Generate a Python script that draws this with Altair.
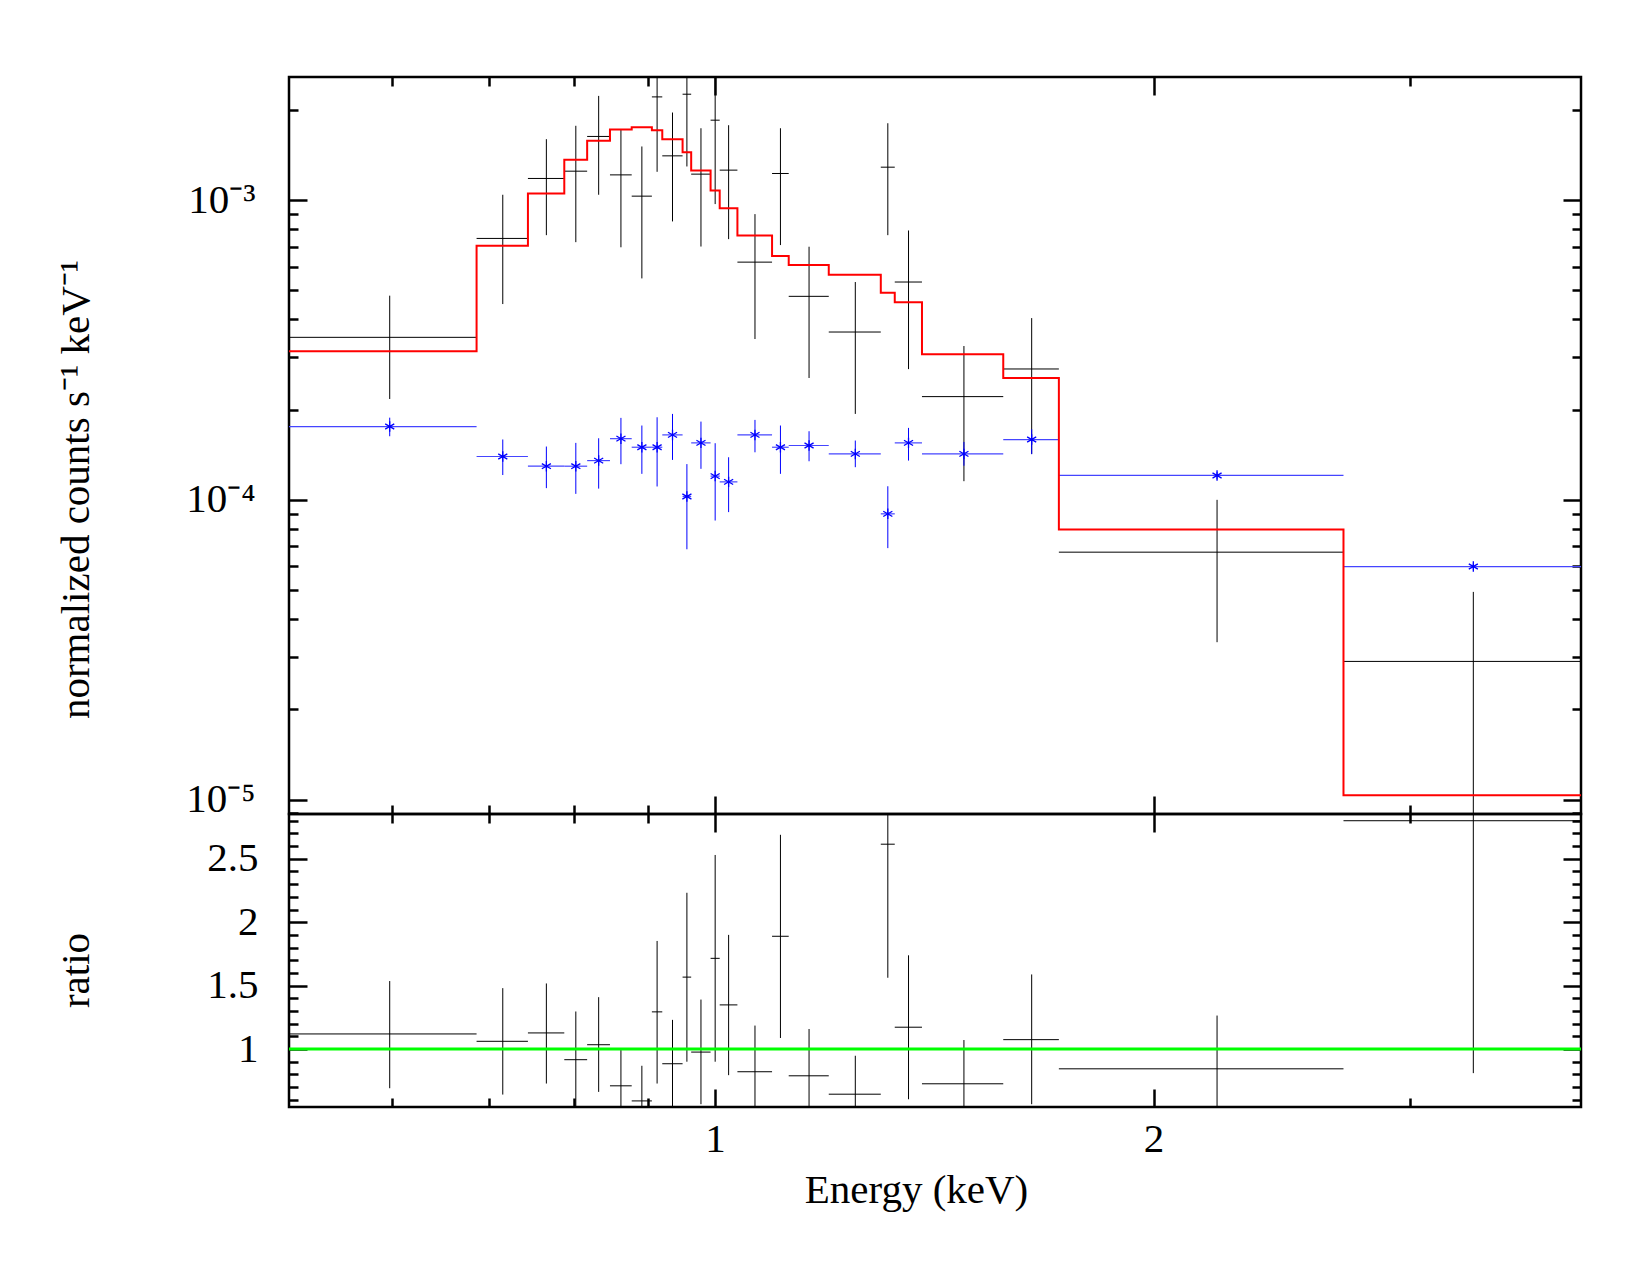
import altair as alt
import pandas as pd

# ---------------- data ----------------
# energy bins (keV)
e_lo = [0.510, 0.686, 0.744, 0.788, 0.817, 0.847, 0.8766, 0.905, 0.920, 0.950, 0.963, 0.993,
        1.0074, 1.036, 1.0943, 1.1235, 1.1969, 1.2995, 1.3285, 1.3869, 1.577, 1.7219, 2.70]
e_hi = [0.686, 0.744, 0.788, 0.817, 0.847, 0.8766, 0.905, 0.920, 0.950, 0.963, 0.993, 1.0074,
        1.036, 1.0943, 1.1235, 1.1969, 1.2995, 1.3285, 1.3869, 1.577, 1.7219, 2.70, 3.93]

# source spectrum (normalized counts s^-1 keV^-1)
src_val = [3.485e-4, 7.45e-4, 1.181e-3, 1.249e-3, 1.631e-3, 1.214e-3, 1.031e-3, 2.21e-3,
           1.405e-3, 2.256e-3, 1.221e-3, 1.848e-3, 1.259e-3, 6.21e-4, 1.227e-3, 4.775e-4,
           3.63e-4, 1.288e-3, 5.33e-4, 2.21e-4, 2.733e-4, 6.69e-5, 2.89e-5]
src_lo = [2.17e-4, 4.50e-4, 7.64e-4, 7.24e-4, 1.042e-3, 6.96e-4, 5.48e-4, 1.243e-3,
          8.49e-4, 1.295e-3, 7.0e-4, 9.7e-4, 7.41e-4, 3.44e-4, 7.08e-4, 2.55e-4,
          1.935e-4, 7.64e-4, 2.73e-4, 1.154e-4, 1.423e-4, 3.35e-5, 8.4e-6]
src_hi = [4.80e-4, 1.042e-3, 1.597e-3, 1.77e-3, 2.227e-3, 1.725e-3, 1.51e-3, 3.17e-3,
          1.96e-3, 3.23e-3, 1.737e-3, 2.72e-3, 1.778e-3, 8.98e-4, 1.737e-3, 6.99e-4,
          5.33e-4, 1.805e-3, 7.92e-4, 3.26e-4, 4.04e-4, 1.0e-4, 4.93e-5]

# background spectrum
bkg_val = [1.756e-4, 1.395e-4, 1.295e-4, 1.295e-4, 1.352e-4, 1.60e-4, 1.498e-4, 1.498e-4,
           1.647e-4, 1.026e-4, 1.549e-4, 1.2e-4, 1.148e-4, 1.647e-4, 1.498e-4, 1.518e-4,
           1.423e-4, 8.98e-5, 1.549e-4, 1.423e-4, 1.589e-4, 1.206e-4, 5.99e-5]
bkg_lo = [1.63e-4, 1.21e-4, 1.094e-4, 1.047e-4, 1.09e-4, 1.315e-4, 1.221e-4, 1.108e-4,
          1.359e-4, 6.84e-5, 1.269e-4, 8.53e-5, 9.1e-5, 1.441e-4, 1.221e-4, 1.345e-4,
          1.285e-4, 6.9e-5, 1.352e-4, 1.30e-4, 1.42e-4, 1.17e-4, 5.85e-5]
bkg_hi = [1.88e-4, 1.59e-4, 1.506e-4, 1.549e-4, 1.605e-4, 1.877e-4, 1.77e-4, 1.886e-4,
          1.935e-4, 1.316e-4, 1.824e-4, 1.545e-4, 1.387e-4, 1.848e-4, 1.77e-4, 1.694e-4,
          1.577e-4, 1.11e-4, 1.738e-4, 1.56e-4, 1.72e-4, 1.24e-4, 6.13e-5]

# folded model
model = [3.13e-4, 7.04e-4, 1.052e-3, 1.363e-3, 1.577e-3, 1.72e-3, 1.75e-3, 1.711e-3,
         1.597e-3, 1.445e-3, 1.256e-3, 1.077e-3, 9.4e-4, 7.62e-4, 6.51e-4, 6.07e-4,
         5.64e-4, 4.91e-4, 4.56e-4, 3.06e-4, 2.55e-4, 7.96e-5, 1.034e-5]

# ratio panel
ratio_val = [1.119, 1.061, 1.127, 0.916, 1.034, 0.710, 0.591, 1.293, 0.884, 1.567, 0.976, 1.715,
             1.348, 0.821, 1.889, 0.789, 0.644, 2.615, 1.172, 0.726, 1.074, 0.844, 2.80]
ratio_lo = [0.691, 0.641, 0.728, 0.531, 0.662, 0.405, 0.313, 0.728, 0.532, 0.90, 0.565, 0.90,
            0.794, 0.451, 1.087, 0.42, 0.343, 1.562, 0.604, 0.377, 0.565, 0.421, 0.81]
ratio_hi = [1.536, 1.48, 1.517, 1.296, 1.409, 0.992, 0.868, 1.852, 1.23, 2.232, 1.39, 2.53,
            1.90, 1.185, 2.689, 1.158, 0.947, 3.68, 1.739, 1.071, 1.588, 1.264, 4.77]

# axes
x_domain = [0.51, 3.93]
y_top_domain = [8.95e-6, 2.575e-3]
y_bot_domain = [0.543, 2.853]
x_major = [1, 2]
x_minor = [0.6, 0.7, 0.8, 0.9, 3]
y_top_major = [1e-3, 1e-4, 1e-5]
y_top_minor = [2e-3, 9e-4, 8e-4, 7e-4, 6e-4, 5e-4, 4e-4, 3e-4, 2e-4,
               9e-5, 8e-5, 7e-5, 6e-5, 5e-5, 4e-5, 3e-5, 2e-5, 9e-6]
y_bot_major = [1, 1.5, 2, 2.5]
y_bot_minor = [0.6, 0.7, 0.8, 0.9, 1.1, 1.2, 1.3, 1.4, 1.6, 1.7, 1.8, 1.9,
               2.1, 2.2, 2.3, 2.4, 2.6, 2.7, 2.8]
ratio_ref = [1.0]

# ---------------- tables ----------------
centers = [(a + b) / 2 for a, b in zip(e_lo, e_hi)]
df = pd.DataFrame({
    "e_lo": e_lo, "e_hi": e_hi, "e": centers,
    "src": src_val, "src_lo": src_lo, "src_hi": src_hi,
    "bkg": bkg_val, "bkg_lo": bkg_lo, "bkg_hi": bkg_hi,
    "ratio": ratio_val, "ratio_lo": ratio_lo, "ratio_hi": ratio_hi,
})
step_rows = []
for i, (a, b, m) in enumerate(zip(e_lo, e_hi, model)):
    step_rows.append({"e": a, "m": m, "o": 2 * i})
    step_rows.append({"e": b, "m": m, "o": 2 * i + 1})
step_df = pd.DataFrame(step_rows)
ref_df = pd.DataFrame({"r": ratio_ref, "e": [1.0]})

FONT = "Liberation Serif"
FS = 41
W = 1292
H_TOP = 737
H_BOT = 293
TW = 2.5

xs = alt.Scale(type="log", domain=x_domain, nice=False)
ys_top = alt.Scale(type="log", domain=y_top_domain, nice=False)
ys_bot = alt.Scale(type="linear", domain=y_bot_domain, nice=False, zero=False)


def tick_axis(orient, values, size):
    return alt.Axis(orient=orient, values=values, labels=False, domain=False, ticks=True,
                    tickSize=size, tickWidth=TW, tickColor="black", offset=-size,
                    grid=False, title=None)


def carriers(data, xf, yf, xscale, yscale, x_axes, y_axes):
    out = []
    n = max(len(x_axes), len(y_axes))
    for i in range(n):
        xa = x_axes[i] if i < len(x_axes) else None
        ya = y_axes[i] if i < len(y_axes) else None
        out.append(alt.Chart(data).mark_point(opacity=0).encode(
            x=alt.X(xf, type="quantitative", scale=xscale, axis=xa),
            y=alt.Y(yf, type="quantitative", scale=yscale, axis=ya)))
    return out


label_expr = ("round(log(datum.value)/LN10) == -3 ? '10⁻³' : "
              "round(log(datum.value)/LN10) == -4 ? '10⁻⁴' : '10⁻⁵'")

y_top_label_axis = alt.Axis(
    orient="left", values=y_top_major, ticks=False, tickSize=0, domain=False, grid=False,
    labelExpr=label_expr, labelFont=FONT, labelFontSize=FS, labelColor="black",
    labelPadding=34, labelOverlap=False, labelFlush=False,
    title="normalized counts s⁻¹ keV⁻¹", titleFont=FONT, titleFontSize=FS,
    titleFontWeight="normal", titleColor="black", titleAngle=270, titleAlign="center",
    titleBaseline="middle", titleX=-213, titleY=412)

y_bot_label_axis = alt.Axis(
    orient="left", values=y_bot_major, ticks=False, tickSize=0, domain=False, grid=False,
    format="~g", labelFont=FONT, labelFontSize=FS, labelColor="black",
    labelPadding=31, labelOverlap=False, labelFlush=False,
    title="ratio", titleFont=FONT, titleFontSize=FS,
    titleFontWeight="normal", titleColor="black", titleAngle=270, titleAlign="center",
    titleBaseline="middle", titleX=-213, titleY=156)

x_bot_label_axis = alt.Axis(
    orient="bottom", values=x_major, ticks=False, tickSize=0, domain=False, grid=False,
    format="~g", labelFont=FONT, labelFontSize=FS, labelColor="black",
    labelPadding=12, labelOverlap=False, labelFlush=False,
    title="Energy (keV)", titleFont=FONT, titleFontSize=FS, titleFontWeight="normal",
    titleColor="black", titleX=627, titleY=95, titleAlign="center",
    titleBaseline="alphabetic")

# ---------------- top panel ----------------
top_axes = carriers(
    df, "e", "src", xs, ys_top,
    [tick_axis("bottom", x_major, 18), tick_axis("bottom", x_minor, 9),
     tick_axis("top", x_major, 18), tick_axis("top", x_minor, 9)],
    [y_top_label_axis, tick_axis("left", y_top_major, 18), tick_axis("left", y_top_minor, 9),
     tick_axis("right", y_top_major, 18), tick_axis("right", y_top_minor, 9)])

base = alt.Chart(df)
src_xerr = base.mark_rule(color="black", strokeWidth=1, clip=True).encode(
    x=alt.X("e_lo:Q", scale=xs, axis=None), x2="e_hi:Q",
    y=alt.Y("src:Q", scale=ys_top, axis=None))
src_yerr = base.mark_rule(color="black", strokeWidth=1, clip=True).encode(
    x=alt.X("e:Q", scale=xs, axis=None),
    y=alt.Y("src_lo:Q", scale=ys_top, axis=None), y2="src_hi:Q")
bkg_xerr = base.mark_rule(color="#4545ff", strokeWidth=1.2, clip=True).encode(
    x=alt.X("e_lo:Q", scale=xs, axis=None), x2="e_hi:Q",
    y=alt.Y("bkg:Q", scale=ys_top, axis=None))
bkg_yerr = base.mark_rule(color="#0000ff", strokeWidth=1, clip=True).encode(
    x=alt.X("e:Q", scale=xs, axis=None),
    y=alt.Y("bkg_lo:Q", scale=ys_top, axis=None), y2="bkg_hi:Q")
star = "M0,-1L0,1M-0.866,-0.5L0.866,0.5M-0.866,0.5L0.866,-0.5"
bkg_pts = base.mark_point(shape=star, filled=False, size=110, strokeWidth=1.3,
                          color="#0000ff", opacity=1, clip=True).encode(
    x=alt.X("e:Q", scale=xs, axis=None),
    y=alt.Y("bkg:Q", scale=ys_top, axis=None))
model_line = alt.Chart(step_df).mark_line(color="#ff0000", strokeWidth=2, clip=True).encode(
    x=alt.X("e:Q", scale=xs, axis=None),
    y=alt.Y("m:Q", scale=ys_top, axis=None),
    order="o:Q")

top = alt.layer(*top_axes, src_xerr, src_yerr, bkg_xerr, bkg_yerr, bkg_pts, model_line).resolve_axis(
    x="independent", y="independent").properties(width=W, height=H_TOP)

# ---------------- bottom panel ----------------
bot_axes = carriers(
    df, "e", "ratio", xs, ys_bot,
    [x_bot_label_axis, tick_axis("bottom", x_major, 18), tick_axis("bottom", x_minor, 9),
     tick_axis("top", x_major, 18), tick_axis("top", x_minor, 9)],
    [y_bot_label_axis, tick_axis("left", y_bot_major, 18), tick_axis("left", y_bot_minor, 9),
     tick_axis("right", y_bot_major, 18), tick_axis("right", y_bot_minor, 9)])

r_xerr = base.mark_rule(color="black", strokeWidth=1, clip=True).encode(
    x=alt.X("e_lo:Q", scale=xs, axis=None), x2="e_hi:Q",
    y=alt.Y("ratio:Q", scale=ys_bot, axis=None))
r_yerr = base.mark_rule(color="black", strokeWidth=1, clip=True).encode(
    x=alt.X("e:Q", scale=xs, axis=None),
    y=alt.Y("ratio_lo:Q", scale=ys_bot, axis=None), y2="ratio_hi:Q")
ref_line = alt.Chart(ref_df).mark_rule(color="#00ff00", strokeWidth=3).encode(
    y=alt.Y("r:Q", scale=ys_bot, axis=None))

bottom = alt.layer(*bot_axes, r_xerr, r_yerr, ref_line).resolve_axis(
    x="independent", y="independent").properties(width=W, height=H_BOT)

chart = alt.vconcat(top, bottom, spacing=0, bounds="flush").configure_view(
    stroke="black", strokeWidth=2.5).properties(
    background="white", padding={"left": 53, "top": 74, "right": 0, "bottom": 0})

chart.save("out.html", embed_options={"renderer": "svg", "actions": False})
